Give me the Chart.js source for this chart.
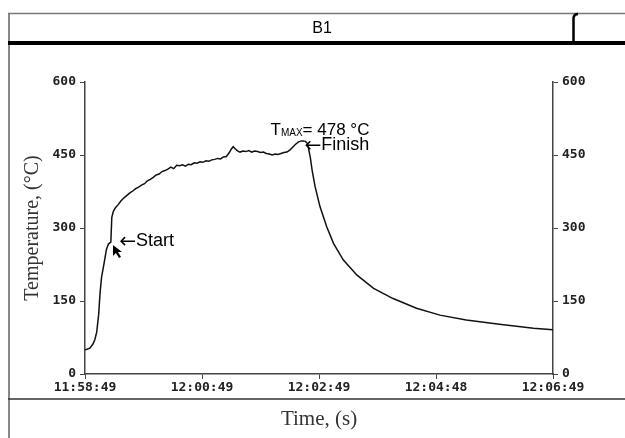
<!DOCTYPE html>
<html>
<head>
<meta charset="utf-8">
<script src="https://cdn.jsdelivr.net/npm/chart.js@4.4.1/dist/chart.umd.min.js"></script>
<style>
    html, body { margin: 0; padding: 0; background: #fff; }
    #wrap { position: relative; width: 625px; height: 438px; }
</style>
</head>
<body>
<div id="wrap"><canvas id="tempChart" width="625" height="438"></canvas></div>
<script>
// seconds after 11:58:49
const timeSec = [0, 2, 5, 8, 10, 12, 14, 15.5, 17, 19.5, 22, 24, 26.5, 27.5, 29, 31, 34, 37, 40, 43,
    46, 49, 52, 55, 58, 61, 64, 67, 70, 73, 76, 79, 82, 85, 88, 91, 94, 97, 100, 103,
    106, 109, 112, 115, 118, 121, 124, 127, 130, 133, 136, 139, 142, 145, 148, 150, 152, 154, 156, 159,
    162, 165, 168, 171, 174, 177, 180, 183, 186, 189, 192, 195, 198, 201, 204, 207, 210, 213, 216, 219,
    222, 224, 226, 228, 229, 230, 231, 233, 236, 241, 248, 255, 265, 279, 296, 316, 340, 364, 391, 425,
    460, 480];
const tempC = [50, 51, 53, 61, 70, 86, 122, 168, 199, 227, 256, 267, 271, 322, 334, 341, 348, 356, 362, 367,
    372, 376, 381, 384, 388, 391, 397, 400, 404, 409, 411, 416, 418, 421, 425, 422, 429, 428, 430, 427,
    431, 430, 434, 433, 436, 435, 438, 437, 440, 441, 443, 442, 446, 447, 455, 462, 467, 463, 459, 456,
    458, 457, 459, 456, 458, 457, 455, 456, 453, 452, 450, 452, 451, 453, 455, 456, 460, 466, 472, 477,
    479, 479, 478, 474, 466, 456, 446, 418, 385, 344, 302, 268, 234, 203, 176, 155, 135, 121, 111, 102,
    94, 91];

const timeTicks = [0, 120, 240, 360, 480];
const timeLabels = ['11:58:49', '12:00:49', '12:02:49', '12:04:48', '12:06:49'];
const tempTicks = [0, 150, 300, 450, 600];
const tMax = 478;

const tickFont = { family: 'DejaVu Sans Mono', size: 13, weight: 'bold' };
const axisColor = '#444';

function fixTicks(values) {
    return (scale) => { scale.ticks = values.map(v => ({ value: v })); };
}

// left-pointing arrow followed by a word
function arrowNote(ctx, x, y, word) {
    ctx.beginPath();
    ctx.moveTo(x, y);
    ctx.lineTo(x + 14, y);
    ctx.moveTo(x + 4, y - 4);
    ctx.lineTo(x, y);
    ctx.lineTo(x + 4, y + 4);
    ctx.stroke();
    ctx.fillText(word, x + 15, y);
}

// header box, separator lines and the notes on the curve
const framePlugin = {
    id: 'frame',
    afterDraw(chart) {
        const ctx = chart.ctx;
        const xs = chart.scales.x;
        const ys = chart.scales.y;
        ctx.save();

        ctx.strokeStyle = '#888';
        ctx.lineWidth = 2;
        ctx.beginPath(); ctx.moveTo(9, 13); ctx.lineTo(9, 438); ctx.stroke();
        ctx.strokeStyle = '#777';
        ctx.lineWidth = 1.5;
        ctx.beginPath(); ctx.moveTo(8, 13.5); ctx.lineTo(625, 13.5); ctx.stroke();
        ctx.strokeStyle = '#000';
        ctx.lineWidth = 4;
        ctx.beginPath(); ctx.moveTo(8, 43); ctx.lineTo(625, 43); ctx.stroke();
        ctx.lineWidth = 2.5;
        ctx.beginPath(); ctx.moveTo(573.5, 43); ctx.lineTo(573.5, 18); ctx.quadraticCurveTo(574, 14, 578, 14); ctx.stroke();
        ctx.strokeStyle = '#333';
        ctx.lineWidth = 1.5;
        ctx.beginPath(); ctx.moveTo(8, 399); ctx.lineTo(625, 399); ctx.stroke();

        ctx.fillStyle = '#000';
        ctx.textBaseline = 'middle';
        ctx.textAlign = 'center';
        ctx.font = '16px "Liberation Sans"';
        ctx.fillText('B1', 322, 29);

        // T_MAX note
        ctx.textAlign = 'left';
        const bigFont = '17px "Liberation Sans"';
        const subFont = '10px "Liberation Sans"';
        const rest = '= ' + tMax + ' °C';
        ctx.font = bigFont;
        const wT = ctx.measureText('T').width;
        const wRest = ctx.measureText(rest).width;
        ctx.font = subFont;
        const wSub = ctx.measureText('MAX').width;
        let nx = xs.getPixelForValue(241) - (wT + wSub + wRest) / 2;
        const ny = ys.getPixelForValue(500);
        ctx.font = bigFont;
        ctx.fillText('T', nx, ny);
        nx += wT;
        ctx.font = subFont;
        ctx.fillText('MAX', nx, ny + 3);
        nx += wSub;
        ctx.font = bigFont;
        ctx.fillText(rest, nx, ny);

        // Start / Finish
        ctx.font = '18px "Liberation Sans"';
        ctx.strokeStyle = '#000';
        ctx.lineWidth = 1.5;
        arrowNote(ctx, xs.getPixelForValue(37), ys.getPixelForValue(273), 'Start');
        arrowNote(ctx, xs.getPixelForValue(227), ys.getPixelForValue(470), 'Finish');

        // mouse pointer left in the screenshot
        const px = xs.getPixelForValue(28.7);
        const py = ys.getPixelForValue(265);
        ctx.beginPath();
        ctx.moveTo(px, py);
        ctx.lineTo(px, py + 11);
        ctx.lineTo(px + 3, py + 8);
        ctx.lineTo(px + 6, py + 13);
        ctx.lineTo(px + 8, py + 12);
        ctx.lineTo(px + 5, py + 7);
        ctx.lineTo(px + 9, py + 7);
        ctx.closePath();
        ctx.fill();

        ctx.restore();
    }
};

const ctx = document.getElementById('tempChart').getContext('2d');
new Chart(ctx, {
    type: 'line',
    data: {
        datasets: [{
            label: 'B1',
            data: timeSec.map((t, i) => ({ x: t, y: tempC[i] })),
            borderColor: '#111',
            borderWidth: 1.5,
            pointRadius: 0,
            tension: 0,
            fill: false
        }]
    },
    options: {
        responsive: false,
        animation: false,
        layout: { padding: { top: 82, left: 0, right: 0, bottom: 0 } },
        plugins: {
            legend: { display: false },
            tooltip: { enabled: false }
        },
        scales: {
            x: {
                type: 'linear',
                min: 0,
                max: 480,
                afterBuildTicks: fixTicks(timeTicks),
                afterFit: (s) => { s.height = 64; },
                ticks: {
                    font: tickFont,
                    color: '#222',
                    padding: 1,
                    maxRotation: 0,
                    autoSkip: false,
                    callback: (v) => timeLabels[timeTicks.indexOf(v)]
                },
                grid: { drawOnChartArea: false, tickLength: 5, color: axisColor },
                border: { color: axisColor, width: 1.5 },
                title: {
                    display: true,
                    text: 'Time, (s)',
                    font: { family: 'Liberation Serif', size: 21 },
                    color: '#333',
                    padding: { top: 0, bottom: 6 }
                }
            },
            y: {
                position: 'left',
                min: 0,
                max: 600,
                afterBuildTicks: fixTicks(tempTicks),
                afterFit: (s) => { s.width = 85; },
                ticks: { font: tickFont, color: '#222', padding: 4 },
                grid: { drawOnChartArea: false, tickLength: 5, color: axisColor },
                border: { color: axisColor, width: 1.5 },
                title: {
                    display: true,
                    text: 'Temperature, (°C)',
                    font: { family: 'Liberation Serif', size: 20 },
                    color: '#333',
                    padding: { top: 21, bottom: 0 }
                }
            },
            y2: {
                position: 'right',
                min: 0,
                max: 600,
                afterBuildTicks: fixTicks(tempTicks),
                afterFit: (s) => { s.width = 72; },
                ticks: { font: tickFont, color: '#222', padding: 4 },
                grid: { drawOnChartArea: false, tickLength: 5, color: axisColor },
                border: { color: axisColor, width: 1.5 }
            }
        }
    },
    plugins: [framePlugin]
});
</script>
</body>
</html>
